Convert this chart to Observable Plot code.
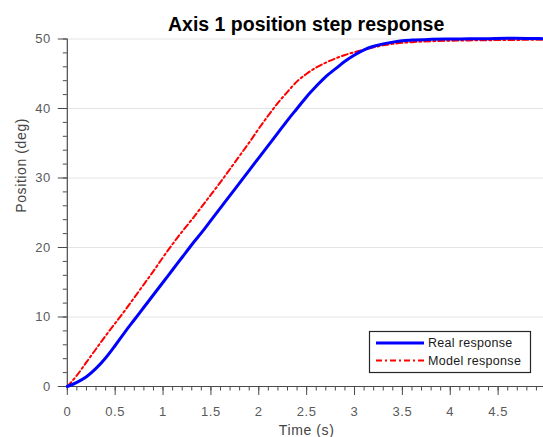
<!DOCTYPE html>
<html>
<head>
<meta charset="utf-8">
<script src="https://cdn.jsdelivr.net/npm/d3@7"></script>
<script src="https://cdn.jsdelivr.net/npm/@observablehq/plot@0.6"></script>
<style>
  html, body { margin: 0; padding: 0; background: #fff; overflow: hidden; width: 543px; height: 437px; }
  #wrap { position: relative; width: 546px; }
  #title {
    box-sizing: border-box; height: 34px; width: 478.7px; margin-left: 66.8px;
    padding-top: 13.2px; line-height: 20px; text-align: center; white-space: nowrap;
    font: bold 19.5px "Liberation Sans", Arial, sans-serif; color: #000;
  }
  svg { display: block; }
</style>
</head>
<body>
<div id="wrap">
  <div id="title">Axis 1 position step response</div>
  <div id="chart"></div>
</div>
<script>
// ---- data ----
const time = [0, 0.1, 0.2, 0.3, 0.4, 0.5, 0.6, 0.7, 0.8, 0.9,
              1.0, 1.1, 1.2, 1.3, 1.4, 1.5, 1.6, 1.7, 1.8, 1.9,
              2.0, 2.1, 2.2, 2.3, 2.4, 2.5, 2.6, 2.7, 2.8, 2.9,
              3.0, 3.1, 3.2, 3.3, 3.4, 3.5, 3.6, 3.8, 4.0, 4.2, 4.4, 4.6, 4.8, 4.96];
const realPos = [0, 0.6, 1.4, 2.6, 4.1, 5.9, 7.8, 9.6, 11.4, 13.2,
                 15.0, 16.8, 18.6, 20.4, 22.1, 23.9, 25.7, 27.5, 29.3, 31.1,
                 32.9, 34.7, 36.5, 38.3, 40.0, 41.7, 43.2, 44.6, 45.7, 46.8,
                 47.7, 48.45, 48.95, 49.3, 49.55, 49.75, 49.85, 49.95, 50.0, 50.02, 50.05, 50.1, 50.08, 50.05];
const modelPos = [0, 1.6, 3.5, 5.4, 7.3, 9.1, 10.9, 12.8, 14.7, 16.6,
                  18.6, 20.5, 22.3, 24.0, 25.8, 27.6, 29.4, 31.3, 33.2, 35.1,
                  37.1, 39.0, 40.8, 42.4, 43.9, 45.0, 45.9, 46.6, 47.2, 47.7,
                  48.1, 48.45, 48.8, 49.1, 49.3, 49.45, 49.55, 49.68, 49.75, 49.8, 49.83, 49.86, 49.88, 49.9];
const seriesNames = ["Real response", "Model response"];
const xTicks = [0, 0.5, 1, 1.5, 2, 2.5, 3, 3.5, 4, 4.5, 5];
const xMinor = d3.range(0, 51).map(i => i / 10);
const yTicks = [0, 10, 20, 30, 40, 50];
const yMinor = d3.range(0, 26).map(i => i * 2);
const xLabel = "Time (s)";
const yLabel = "Position (deg)";

const real = time.map((t, i) => ({t, v: realPos[i]}));
const model = time.map((t, i) => ({t, v: modelPos[i]}));

const axisStroke = "#4a4a4a";
const textFill = "#5a5a5a";
const font = '"Liberation Sans", Arial, sans-serif';
const dashDot = "6,3,2,3";

const chart = Plot.plot({
  width: 546,
  height: 403,
  marginLeft: 66.8,
  marginRight: 0.5,
  marginTop: 4.5,
  marginBottom: 51,
  style: {fontFamily: font, fontSize: "13px", color: textFill, background: "transparent", letterSpacing: "0.6px", overflow: "visible"},
  x: {domain: [0, 5]},
  y: {domain: [0, 50]},
  marks: [
    Plot.gridY(yTicks, {stroke: "#e4e4e4", strokeOpacity: 1, strokeWidth: 1}),
    Plot.axisY({ticks: yMinor, tickSize: 4, tickFormat: () => "", label: null, stroke: axisStroke}),
    Plot.axisY({ticks: yTicks, tickSize: 9, tickPadding: 7.5, label: null, stroke: axisStroke, fill: textFill, tickFormat: d => String(d)}),
    Plot.axisX({ticks: xMinor, tickSize: 4.5, tickFormat: () => "", label: null, stroke: axisStroke}),
    Plot.axisX({ticks: xTicks, tickSize: 9, tickPadding: 11, label: null, stroke: axisStroke, fill: textFill, tickFormat: d => (d < 5 ? String(d) : "")}),
    Plot.ruleY([0], {stroke: axisStroke, strokeWidth: 1.2}),
    Plot.ruleX([0], {stroke: axisStroke, strokeWidth: 1.2}),
    Plot.line(model, {x: "t", y: "v", stroke: "#ff0000", strokeWidth: 2, strokeDasharray: dashDot, curve: "monotone-x"}),
    Plot.line(real, {x: "t", y: "v", stroke: "#0000ff", strokeWidth: 3, curve: "monotone-x"}),
    Plot.text([xLabel], {text: d => d, frameAnchor: "bottom", dy: 48, fontSize: 14, fill: "#444"}),
    Plot.text([yLabel], {text: d => d, frameAnchor: "left", dx: -46, rotate: -90, fontSize: 14, fill: "#444"})
  ]
});
document.getElementById("chart").appendChild(chart);

// legend box inside the axes (bottom right), like the MATLAB legend
const svg = d3.select(chart);
const lg = svg.append("g").attr("font-family", font).attr("font-size", 12.5)
  .attr("text-anchor", "start").style("letter-spacing", "0.3px");
lg.append("rect").attr("x", 369.5).attr("y", 297.5).attr("width", 161).attr("height", 41)
  .attr("fill", "#fff").attr("stroke", "#262626").attr("stroke-width", 1.2);
const rows = [
  {name: seriesNames[0], stroke: "#0000ff", w: 3, dash: null, y: 309},
  {name: seriesNames[1], stroke: "#ff0000", w: 2, dash: dashDot, y: 326.5}
];
rows.forEach(r => {
  lg.append("line").attr("x1", 376).attr("x2", 424).attr("y1", r.y).attr("y2", r.y)
    .attr("stroke", r.stroke).attr("stroke-width", r.w).attr("stroke-dasharray", r.dash);
  lg.append("text").attr("x", 428).attr("y", r.y).attr("dy", "0.35em")
    .attr("text-anchor", "start").attr("fill", "#1a1a1a").text(r.name);
});
</script>
</body>
</html>
